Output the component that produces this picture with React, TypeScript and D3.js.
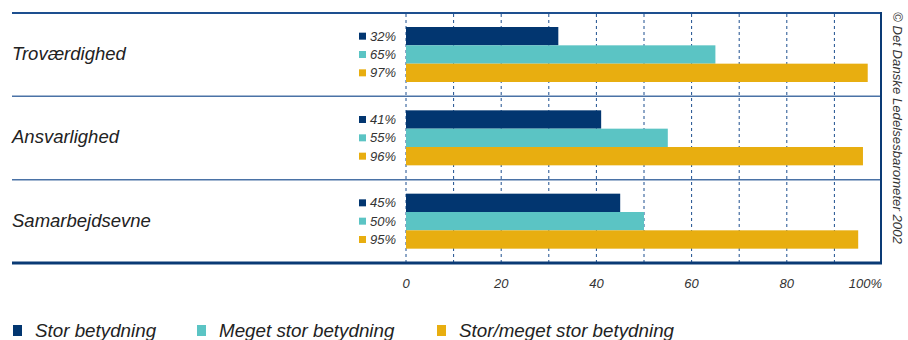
import React, { useEffect, useRef } from 'react';
import * as d3 from 'd3';

const categories = ['Troværdighed', 'Ansvarlighed', 'Samarbejdsevne'];
const seriesNames = ['Stor betydning', 'Meget stor betydning', 'Stor/meget stor betydning'];
const storValues = [32, 41, 45];
const megetStorValues = [65, 55, 50];
const samletValues = [97, 96, 95];
const xTicks = [0, 20, 40, 60, 80, 100];
const gridTicks = [0, 10, 20, 30, 40, 50, 60, 70, 80, 90];
const colors = ['#023670', '#5bc4c4', '#e8ae10'];

const FONT = '"Liberation Sans", Arial, Helvetica, sans-serif';

export default function App() {
  const ref = useRef<SVGSVGElement>(null);

  useEffect(() => {
    const svg = d3.select(ref.current);
    svg.selectAll('*').remove();

    const series = [storValues, megetStorValues, samletValues];

    const x = d3.scaleLinear().domain([0, 100]).range([406, 882]);
    const yGroup = d3.scaleBand().domain(categories).range([13, 263]);
    const yBar = d3.scaleBand().domain(seriesNames).range([14, 69]);

    // dotted grid
    svg.append('g')
      .selectAll('line')
      .data(gridTicks)
      .join('line')
      .attr('x1', d => x(d))
      .attr('x2', d => x(d))
      .attr('y1', 14)
      .attr('y2', 262)
      .attr('stroke', '#1d4f8f')
      .attr('stroke-width', 1)
      .attr('stroke-dasharray', '3,3');

    // bars
    const groups = svg.append('g')
      .selectAll('g')
      .data(categories)
      .join('g')
      .attr('transform', d => `translate(0, ${yGroup(d)})`);

    groups.each(function (cat, ci) {
      const g = d3.select(this);
      seriesNames.forEach((s, si) => {
        const v = series[si][ci];
        const y0 = yBar(s) as number;
        g.append('rect')
          .attr('x', x(0))
          .attr('y', y0)
          .attr('width', x(v) - x(0))
          .attr('height', yBar.bandwidth())
          .attr('fill', colors[si]);
        g.append('rect')
          .attr('x', 359)
          .attr('y', y0 + yBar.bandwidth() / 2 - 3.5)
          .attr('width', 7)
          .attr('height', 7)
          .attr('fill', colors[si]);
        g.append('text')
          .attr('x', 396)
          .attr('y', y0 + yBar.bandwidth() / 2)
          .attr('dy', '0.35em')
          .attr('text-anchor', 'end')
          .attr('font-family', FONT)
          .attr('font-style', 'italic')
          .attr('font-size', 13)
          .attr('fill', '#333')
          .text(v + '%');
      });
      g.append('text')
        .attr('x', 12)
        .attr('y', yGroup.bandwidth() / 2 - 1)
        .attr('dy', '0.35em')
        .attr('font-family', FONT)
        .attr('font-style', 'italic')
        .attr('font-size', 18.5)
        .attr('fill', '#222')
        .text(cat);
    });

    // separators and frame
    svg.append('line')
      .attr('x1', 12).attr('x2', 882)
      .attr('y1', 13).attr('y2', 13)
      .attr('stroke', '#1d4f8f').attr('stroke-width', 2);
    svg.append('g')
      .selectAll('line')
      .data(categories.slice(1))
      .join('line')
      .attr('x1', 12).attr('x2', 882)
      .attr('y1', d => yGroup(d) as number)
      .attr('y2', d => yGroup(d) as number)
      .attr('stroke', '#4a72a6').attr('stroke-width', 1.5);
    svg.append('line')
      .attr('x1', 12).attr('x2', 882)
      .attr('y1', 263).attr('y2', 263)
      .attr('stroke', '#0a3a75').attr('stroke-width', 3);
    svg.append('line')
      .attr('x1', 881).attr('x2', 881)
      .attr('y1', 12).attr('y2', 264)
      .attr('stroke', '#0a3a75').attr('stroke-width', 2);

    // x tick labels
    svg.append('g')
      .selectAll('text')
      .data(xTicks)
      .join('text')
      .attr('x', d => x(d))
      .attr('y', 283)
      .attr('dy', '0.35em')
      .attr('text-anchor', d => (d === 100 ? 'end' : 'middle'))
      .attr('font-family', FONT)
      .attr('font-style', 'italic')
      .attr('font-size', 13)
      .attr('fill', '#333')
      .text(d => (d === 100 ? '100%' : String(d)));

    // copyright
    svg.append('text')
      .attr('transform', 'translate(893, 12) rotate(90)')
      .attr('font-family', FONT)
      .attr('font-style', 'italic')
      .attr('font-size', 13.2)
      .attr('fill', '#333')
      .text('© Det Danske Ledelsesbarometer 2002');

    // legend
    const legendX = [13, 197, 437];
    const legend = svg.append('g')
      .selectAll('g')
      .data(seriesNames)
      .join('g')
      .attr('transform', (d, i) => `translate(${legendX[i]}, 330)`);
    legend.append('rect')
      .attr('x', 0).attr('y', -5)
      .attr('width', 9).attr('height', 11)
      .attr('fill', (d, i) => colors[i]);
    legend.append('text')
      .attr('x', 22)
      .attr('y', 0)
      .attr('dy', '0.35em')
      .attr('font-family', FONT)
      .attr('font-style', 'italic')
      .attr('font-size', 18.8)
      .attr('fill', '#222')
      .text(d => d);
  }, []);

  return (
    <svg ref={ref} width={908} height={340} style={{ position: 'absolute', left: 0, top: 0 }} />
  );
}
